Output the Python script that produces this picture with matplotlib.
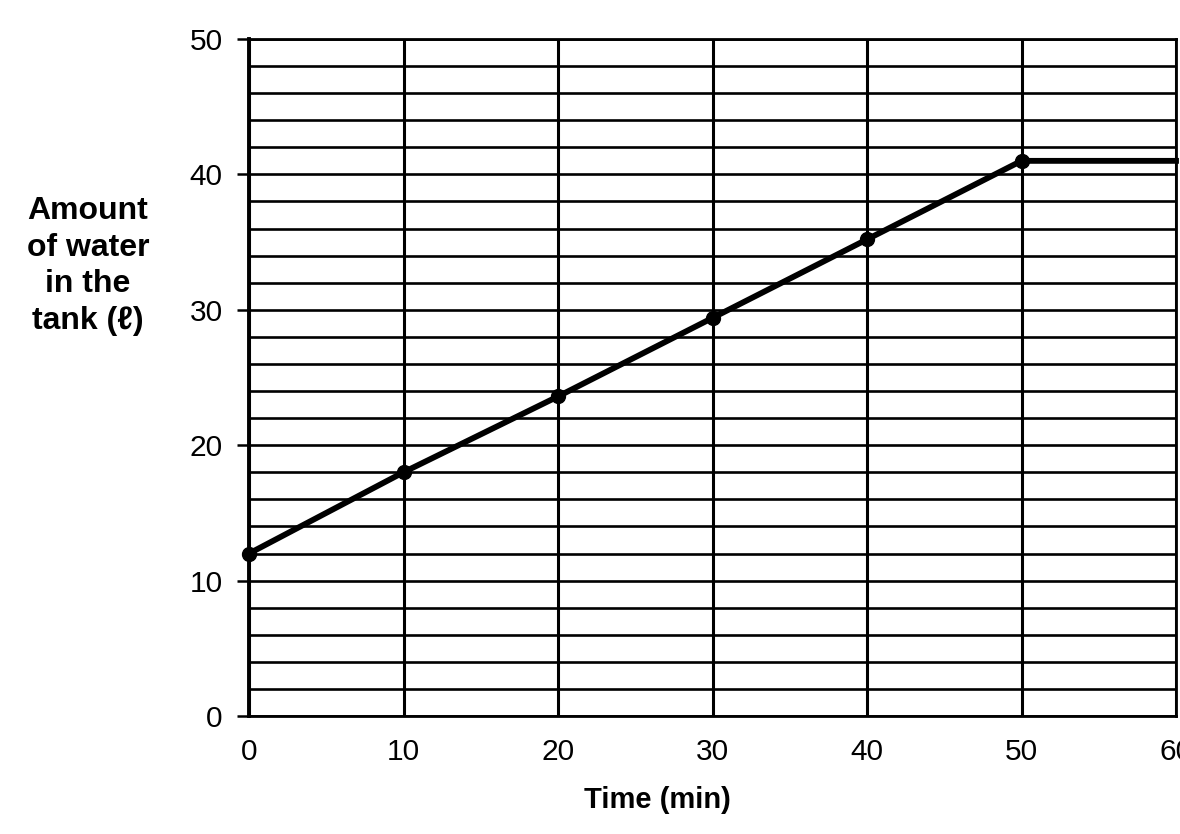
import matplotlib
matplotlib.use("Agg")
import matplotlib.pyplot as plt
from matplotlib.ticker import MultipleLocator

plt.rcParams["font.family"] = ["Liberation Sans", "DejaVu Sans"]

# data
time_min = [0, 10, 20, 30, 40, 50, 60]
water_l = [12, 18, 23.6, 29.4, 35.2, 41, 41]
marked = [0, 1, 2, 3, 4, 5]   # points drawn with a dot
x_ticks = [0, 10, 20, 30, 40, 50, 60]
y_ticks = [0, 10, 20, 30, 40, 50]

fig = plt.figure(figsize=(11.8, 8.34), dpi=100)
ax = fig.add_axes([249/1180, 1-716/834, 927/1180, 677/834])

ax.set_xlim(0, 60); ax.set_ylim(0, 50)
ax.set_xticks(x_ticks); ax.set_yticks(y_ticks)
ax.yaxis.set_minor_locator(MultipleLocator(2))
ax.grid(which="major", axis="x", color="black", lw=2.2)
ax.grid(which="both", axis="y", color="black", lw=1.9)
for s in ax.spines.values():
    s.set_linewidth(2.0)
ax.spines["left"].set_linewidth(2.8)

ax.tick_params(axis="x", length=0, pad=16, labelsize=21.5)
ax.tick_params(axis="y", which="major", length=9, width=1.8, pad=10, labelsize=21.5)
ax.tick_params(axis="y", which="minor", length=0)

ax.plot(time_min, water_l, color="black", lw=4.2, zorder=5, clip_on=False)
ax.plot([time_min[i] for i in marked], [water_l[i] for i in marked], "o",
        color="black", ms=10, zorder=6, clip_on=False)

fig.text(88/1180, 1-266/834, "Amount\nof water\nin the\ntank (\u2113)", ha="center", va="center",
         fontsize=23, fontweight="bold", linespacing=1.3)
fig.text(657/1180, 1-800/834, "Time (min)", ha="center", va="center",
         fontsize=21, fontweight="bold")

fig.savefig("out.png", dpi=100)
